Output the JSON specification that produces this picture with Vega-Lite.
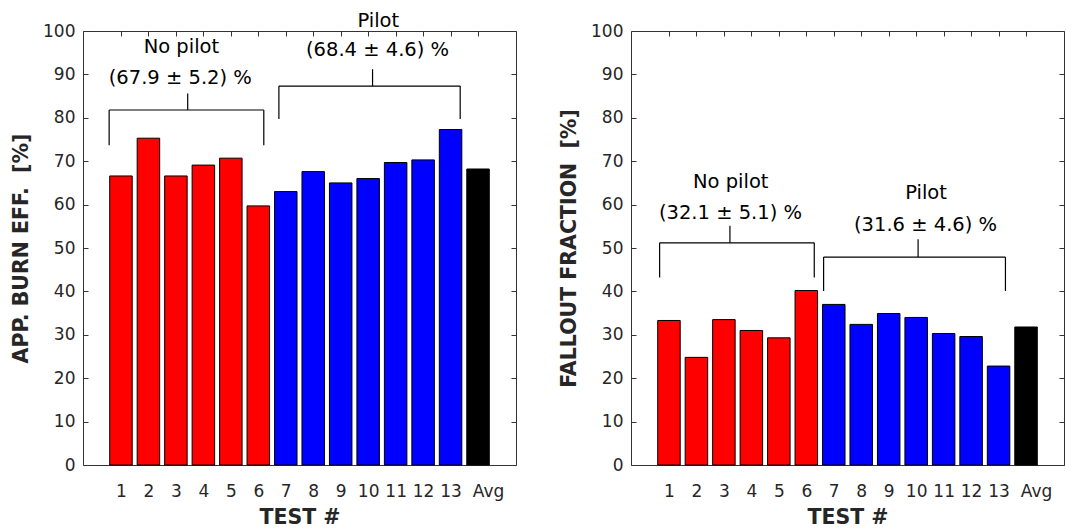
{
  "$schema": "https://vega.github.io/schema/vega-lite/v6.json",
  "background": "white",
  "padding": {"left": 11, "top": 10, "right": 0, "bottom": 0},
  "config": {
    "font": "DejaVu Sans",
    "view": {"stroke": "#333333", "strokeWidth": 1},
    "axis": {
      "grid": false,
      "domain": false,
      "tickSize": -5,
      "tickColor": "#333333",
      "labelFont": "DejaVu Sans",
      "labelFontSize": 17,
      "labelColor": "#262626",
      "titleFont": "DejaVu Sans",
      "titleFontSize": 20.5,
      "titleFontWeight": "bold",
      "titleColor": "#262626"
    }
  },
  "datasets": {
    "burn": [
      {"test": 1, "value": 66.6, "group": "No pilot"},
      {"test": 2, "value": 75.3, "group": "No pilot"},
      {"test": 3, "value": 66.6, "group": "No pilot"},
      {"test": 4, "value": 69.1, "group": "No pilot"},
      {"test": 5, "value": 70.7, "group": "No pilot"},
      {"test": 6, "value": 59.7, "group": "No pilot"},
      {"test": 7, "value": 63.0, "group": "Pilot"},
      {"test": 8, "value": 67.6, "group": "Pilot"},
      {"test": 9, "value": 65.0, "group": "Pilot"},
      {"test": 10, "value": 66.0, "group": "Pilot"},
      {"test": 11, "value": 69.7, "group": "Pilot"},
      {"test": 12, "value": 70.3, "group": "Pilot"},
      {"test": 13, "value": 77.3, "group": "Pilot"},
      {"test": 14, "value": 68.2, "group": "Avg"}
    ],
    "fallout": [
      {"test": 1, "value": 33.3, "group": "No pilot"},
      {"test": 2, "value": 24.8, "group": "No pilot"},
      {"test": 3, "value": 33.5, "group": "No pilot"},
      {"test": 4, "value": 31.0, "group": "No pilot"},
      {"test": 5, "value": 29.3, "group": "No pilot"},
      {"test": 6, "value": 40.2, "group": "No pilot"},
      {"test": 7, "value": 37.0, "group": "Pilot"},
      {"test": 8, "value": 32.4, "group": "Pilot"},
      {"test": 9, "value": 34.9, "group": "Pilot"},
      {"test": 10, "value": 34.0, "group": "Pilot"},
      {"test": 11, "value": 30.3, "group": "Pilot"},
      {"test": 12, "value": 29.6, "group": "Pilot"},
      {"test": 13, "value": 22.8, "group": "Pilot"},
      {"test": 14, "value": 31.8, "group": "Avg"}
    ],
    "burnBrackets": [
      {"x": 0.57, "x2": 6.2, "y": 81.8, "y2": 81.8},
      {"x": 0.57, "x2": 0.57, "y": 81.8, "y2": 73.7},
      {"x": 6.2, "x2": 6.2, "y": 81.8, "y2": 73.7},
      {"x": 3.43, "x2": 3.43, "y": 81.8, "y2": 85.6},
      {"x": 6.75, "x2": 13.35, "y": 87.3, "y2": 87.3},
      {"x": 6.75, "x2": 6.75, "y": 87.3, "y2": 79.7},
      {"x": 13.35, "x2": 13.35, "y": 87.3, "y2": 79.7},
      {"x": 10.16, "x2": 10.16, "y": 87.3, "y2": 91.2}
    ],
    "burnText": [
      {"x": 3.2, "y": 96.3, "text": "No pilot"},
      {"x": 3.16, "y": 89.2, "text": "(67.9 ± 5.2) %"},
      {"x": 10.37, "y": 102.3, "text": "Pilot"},
      {"x": 10.34, "y": 95.6, "text": "(68.4 ± 4.6) %"}
    ],
    "falloutBrackets": [
      {"x": 0.66, "x2": 6.29, "y": 51.2, "y2": 51.2},
      {"x": 0.66, "x2": 0.66, "y": 51.2, "y2": 43.2},
      {"x": 6.29, "x2": 6.29, "y": 51.2, "y2": 43.2},
      {"x": 3.22, "x2": 3.22, "y": 51.2, "y2": 55.1},
      {"x": 6.63, "x2": 13.25, "y": 47.9, "y2": 47.9},
      {"x": 6.63, "x2": 6.63, "y": 47.9, "y2": 40.1},
      {"x": 13.25, "x2": 13.25, "y": 47.9, "y2": 40.1},
      {"x": 10.07, "x2": 10.07, "y": 47.9, "y2": 52.0}
    ],
    "falloutText": [
      {"x": 3.25, "y": 65.2, "text": "No pilot"},
      {"x": 3.24, "y": 58.1, "text": "(32.1 ± 5.1) %"},
      {"x": 10.36, "y": 62.7, "text": "Pilot"},
      {"x": 10.34, "y": 55.4, "text": "(31.6 ± 4.6) %"}
    ]
  },
  "spacing": 115,
  "bounds": "flush",
  "hconcat": [
    {
      "width": 433,
      "height": 434,
      "layer": [
        {
          "data": {"name": "burn"},
          "mark": {"type": "bar", "size": 22.5, "stroke": "#000000", "strokeWidth": 1},
          "encoding": {
            "x": {
              "field": "test",
              "type": "quantitative",
              "scale": {"domain": [-0.2, 15.2], "nice": false, "zero": false},
              "axis": {
                "values": [1, 2, 3, 4, 5, 6, 7, 8, 9, 10, 11, 12, 13, 14],
                "labelExpr": "datum.value == 14 ? 'Avg' : datum.value",
                "labelOffset": {"condition": {"test": "datum.value == 14", "value": 10}, "value": 0},
                "labelFlush": false,
                "labelPadding": 23,
                "title": "TEST #",
                "titlePadding": 8
              }
            },
            "y": {
              "field": "value",
              "type": "quantitative",
              "scale": {"domain": [0, 100], "nice": false},
              "axis": {
                "values": [0, 10, 20, 30, 40, 50, 60, 70, 80, 90, 100],
                "labelPadding": 13,
                "title": "APP. BURN EFF.\u00a0 [%]",
                "titlePadding": 11
              }
            },
            "color": {
              "field": "group",
              "type": "nominal",
              "scale": {"domain": ["No pilot", "Pilot", "Avg"], "range": ["#ff0000", "#0000ff", "#000000"]},
              "legend": null
            }
          }
        },
        {
          "data": {"name": "burnBrackets"},
          "mark": {"type": "rule", "color": "#000000", "strokeWidth": 1.2},
          "encoding": {
            "x": {
              "field": "x",
              "type": "quantitative",
              "scale": {"domain": [-0.2, 15.2], "nice": false, "zero": false},
              "axis": {"orient": "top", "values": [1, 2, 3, 4, 5, 6, 7, 8, 9, 10, 11, 12, 13, 14], "labels": false, "title": null}
            },
            "x2": {"field": "x2"},
            "y": {
              "field": "y",
              "type": "quantitative",
              "scale": {"domain": [0, 100], "nice": false},
              "axis": {"orient": "right", "values": [0, 10, 20, 30, 40, 50, 60, 70, 80, 90, 100], "labels": false, "title": null}
            },
            "y2": {"field": "y2"}
          }
        },
        {
          "data": {"name": "burnText"},
          "mark": {"type": "text", "fontSize": 19.5, "color": "#000000", "baseline": "middle", "align": "center"},
          "encoding": {
            "x": {"field": "x", "type": "quantitative", "scale": {"domain": [-0.2, 15.2], "nice": false, "zero": false}, "axis": null},
            "y": {"field": "y", "type": "quantitative", "scale": {"domain": [0, 100], "nice": false}, "axis": null},
            "text": {"field": "text"}
          }
        }
      ],
      "resolve": {"axis": {"x": "independent", "y": "independent"}}
    },
    {
      "width": 433,
      "height": 434,
      "layer": [
        {
          "data": {"name": "fallout"},
          "mark": {"type": "bar", "size": 22.5, "stroke": "#000000", "strokeWidth": 1},
          "encoding": {
            "x": {
              "field": "test",
              "type": "quantitative",
              "scale": {"domain": [-0.2, 15.2], "nice": false, "zero": false},
              "axis": {
                "values": [1, 2, 3, 4, 5, 6, 7, 8, 9, 10, 11, 12, 13, 14],
                "labelExpr": "datum.value == 14 ? 'Avg' : datum.value",
                "labelOffset": {"condition": {"test": "datum.value == 14", "value": 10}, "value": 0},
                "labelFlush": false,
                "labelPadding": 23,
                "title": "TEST #",
                "titlePadding": 8
              }
            },
            "y": {
              "field": "value",
              "type": "quantitative",
              "scale": {"domain": [0, 100], "nice": false},
              "axis": {
                "values": [0, 10, 20, 30, 40, 50, 60, 70, 80, 90, 100],
                "labelPadding": 13,
                "title": "FALLOUT FRACTION\u00a0 [%]",
                "titlePadding": 11
              }
            },
            "color": {
              "field": "group",
              "type": "nominal",
              "scale": {"domain": ["No pilot", "Pilot", "Avg"], "range": ["#ff0000", "#0000ff", "#000000"]},
              "legend": null
            }
          }
        },
        {
          "data": {"name": "falloutBrackets"},
          "mark": {"type": "rule", "color": "#000000", "strokeWidth": 1.2},
          "encoding": {
            "x": {
              "field": "x",
              "type": "quantitative",
              "scale": {"domain": [-0.2, 15.2], "nice": false, "zero": false},
              "axis": {"orient": "top", "values": [1, 2, 3, 4, 5, 6, 7, 8, 9, 10, 11, 12, 13, 14], "labels": false, "title": null}
            },
            "x2": {"field": "x2"},
            "y": {
              "field": "y",
              "type": "quantitative",
              "scale": {"domain": [0, 100], "nice": false},
              "axis": {"orient": "right", "values": [0, 10, 20, 30, 40, 50, 60, 70, 80, 90, 100], "labels": false, "title": null}
            },
            "y2": {"field": "y2"}
          }
        },
        {
          "data": {"name": "falloutText"},
          "mark": {"type": "text", "fontSize": 19.5, "color": "#000000", "baseline": "middle", "align": "center"},
          "encoding": {
            "x": {"field": "x", "type": "quantitative", "scale": {"domain": [-0.2, 15.2], "nice": false, "zero": false}, "axis": null},
            "y": {"field": "y", "type": "quantitative", "scale": {"domain": [0, 100], "nice": false}, "axis": null},
            "text": {"field": "text"}
          }
        }
      ],
      "resolve": {"axis": {"x": "independent", "y": "independent"}}
    }
  ]
}
